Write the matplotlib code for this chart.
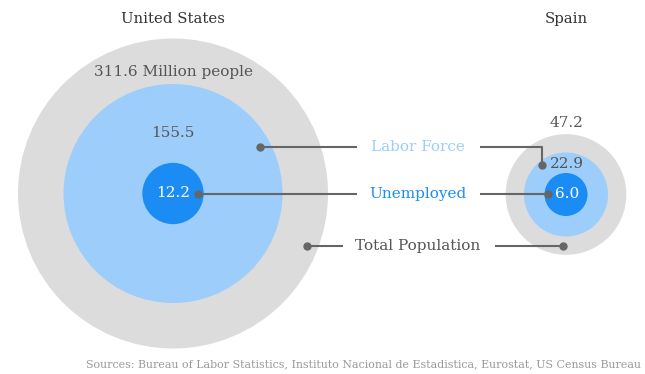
import numpy as np
import matplotlib.pyplot as plt
from matplotlib.patches import Circle

countries = ["United States", "Spain"]
total = [311.6, 47.2]
labor = [155.5, 22.9]
unemployed = [12.2, 6.0]
total_labels = ["311.6 Million people", "47.2"]
legend_names = ["Labor Force", "Unemployed", "Total Population"]
source = "Sources: Bureau of Labor Statistics, Instituto Nacional de Estadistica, Eurostat, US Census Bureau"

GRAY = "#dcdcdc"
LIGHT = "#9dcdfb"
DARK = "#1a8cf3"
TXT = "#555555"
LINE = "#666666"
FONT = "DejaVu Serif"

k = 8.78  # px per sqrt(million), circle areas proportional to value
centers = [(173, 193.5), (566, 194.5)]

fig = plt.figure(figsize=(6.45, 3.74), dpi=100)
ax = fig.add_axes([0, 0, 1, 1])
ax.set_xlim(0, 645)
ax.set_ylim(374, 0)
ax.set_aspect("equal")
ax.axis("off")

for i, (cx, cy) in enumerate(centers):
    for val, col in [(total[i], GRAY), (labor[i], LIGHT), (unemployed[i], DARK)]:
        ax.add_patch(Circle((cx, cy), k * np.sqrt(val), color=col, lw=0))
    ax.text(cx, 19, countries[i], ha="center", va="center", fontsize=10.7, color="#333333", family=FONT)

# value labels
ax.text(173, 72, total_labels[0], ha="center", va="center", fontsize=11, color=TXT, family=FONT)
ax.text(173, 133, "%.1f" % labor[0], ha="center", va="center", fontsize=11, color=TXT, family=FONT)
ax.text(173, 193, "%.1f" % unemployed[0], ha="center", va="center", fontsize=11, color="white", family=FONT)
ax.text(566, 123, total_labels[1], ha="center", va="center", fontsize=11, color=TXT, family=FONT)
ax.text(567, 164, "%.1f" % labor[1], ha="center", va="center", fontsize=11, color=TXT, family=FONT)
ax.text(567, 194, "%.1f" % unemployed[1], ha="center", va="center", fontsize=11, color="white", family=FONT)

# connector lines
lk = dict(color=LINE, lw=1.5, solid_capstyle="butt")
dot = dict(marker="o", ms=5, color=LINE, ls="none")
# Labor Force
ax.plot([260, 357], [147, 147], **lk)
ax.plot([480, 542, 542], [147, 147, 165], **lk)
ax.plot([260, 542], [147, 165], **dot)
# Unemployed
ax.plot([198, 357], [194, 194], **lk)
ax.plot([480, 548], [194, 194], **lk)
ax.plot([198, 548], [194, 194], **dot)
# Total Population
ax.plot([307, 343], [246, 246], **lk)
ax.plot([495, 563], [246, 246], **lk)
ax.plot([307, 563], [246, 246], **dot)

ax.text(418, 147, legend_names[0], ha="center", va="center", fontsize=11, color=LIGHT, family=FONT)
ax.text(418, 194, legend_names[1], ha="center", va="center", fontsize=11, color=DARK, family=FONT)
ax.text(418, 246, legend_names[2], ha="center", va="center", fontsize=11, color=TXT, family=FONT)

ax.text(641, 364, source, ha="right", va="center", fontsize=7.9, color="#999999", family=FONT)

fig.savefig("out.png", dpi=100)
